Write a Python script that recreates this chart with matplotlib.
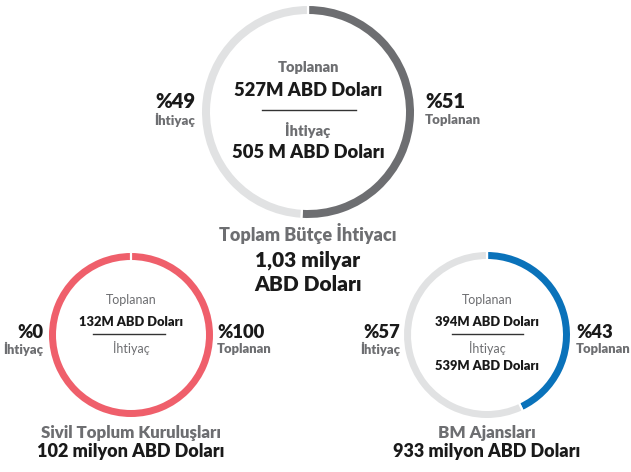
import matplotlib
matplotlib.use("Agg")
import matplotlib.pyplot as plt

W, H = 631, 472
FONT = ["Lato", "DejaVu Sans"]
plt.rcParams['font.family'] = FONT

GRAY_TXT = "#6d6e71"
BLACK = "#1a1a1a"
LIGHT = "#e1e2e3"
BW = "heavy"

# ---- data ----
donut_names = ["Toplam Bütçe İhtiyacı", "Sivil Toplum Kuruluşları", "BM Ajansları"]
donut_totals = ["1,03 milyar\nABD Doları", "102 milyon ABD Doları", "933 milyon ABD Doları"]
funded_pct = [51, 100, 43]
need_pct = [49, 0, 57]
funded_txt = ["527M ABD Doları", "132M ABD Doları", "394M ABD Doları"]
need_txt = ["505 M ABD Doları", "", "539M ABD Doları"]
colors = ["#6d6e71", "#ef5f6b", "#0a72ba"]
lbl_funded = "Toplanan"
lbl_need = "İhtiyaç"

# ---- layout (pixels) ----
centers = [(308, 112), (131, 335), (487, 335)]
radii = [106, 82, 83]
rings = [8, 7, 7]
GAP = 2.2  # px

fig = plt.figure(figsize=(W / 100, H / 100), dpi=100)
ax = fig.add_axes([0, 0, 1, 1])

def Y(y):
    return H - y

lw_pt = GAP * 72 / 100
for i in range(3):
    cx, cy = centers[i]
    r = radii[i] + GAP / 2
    w = rings[i] + GAP
    ax.pie([funded_pct[i], need_pct[i]], colors=[colors[i], LIGHT],
           startangle=90, counterclock=False, center=(cx, Y(cy)), radius=r,
           wedgeprops=dict(width=w, edgecolor="white", linewidth=lw_pt))

ax.set_xlim(0, W)
ax.set_ylim(0, H)
ax.set_aspect("auto")
ax.axis("off")

def txt(x, y, s, size, color, weight=BW, ha="center"):
    ax.text(x, Y(y), s, fontsize=size, color=color, fontweight=weight,
            ha=ha, va="center", family=FONT)

# Top donut
cx, cy = centers[0]
txt(cx, 68, lbl_funded, 10.5, GRAY_TXT)
txt(cx, 91, funded_txt[0], 13.2, BLACK)
ax.plot([262, 356], [Y(110), Y(110)], color="#333333", lw=1)
txt(cx, 130, lbl_need, 10.5, GRAY_TXT)
txt(cx, 152, need_txt[0], 13.2, BLACK)
txt(195, 101, f"%{need_pct[0]}", 14.5, BLACK, ha="right")
txt(195, 120, lbl_need, 9.5, GRAY_TXT, ha="right")
txt(425, 101, f"%{funded_pct[0]}", 14.5, BLACK, ha="left")
txt(425, 120, lbl_funded, 9.5, GRAY_TXT, ha="left")
txt(cx, 233, donut_names[0], 13, GRAY_TXT)
ax.text(cx, Y(272), donut_totals[0], fontsize=15, color=BLACK, fontweight=BW,
        ha="center", va="center", linespacing=1.3, family=FONT)

# Bottom donuts
for i, (lx, rx, l1, l2) in zip([1, 2], [(43, 217, 93, 165), (400, 576, 452, 523)]):
    cx, cy = centers[i]
    txt(cx, 300, lbl_funded, 9, GRAY_TXT, weight="normal")
    txt(cx, 322, funded_txt[i], 9.3, BLACK)
    ax.plot([l1, l2], [Y(334), Y(334)], color="#333333", lw=1)
    txt(cx, 348, lbl_need, 9, GRAY_TXT, weight="normal")
    if need_txt[i]:
        txt(cx, 366, need_txt[i], 9.3, BLACK)
    txt(lx, 332, f"%{need_pct[i]}", 13.2, BLACK, ha="right")
    txt(lx, 349, lbl_need, 9.4, GRAY_TXT, ha="right")
    txt(rx, 332, f"%{funded_pct[i]}", 13.2, BLACK, ha="left")
    txt(rx, 349, lbl_funded, 9.4, GRAY_TXT, ha="left")
    txt(cx, 433, donut_names[i], 12.2, GRAY_TXT)
    txt(cx, 452, donut_totals[i], 13, BLACK)

fig.savefig("out.png", dpi=100, facecolor="white")
